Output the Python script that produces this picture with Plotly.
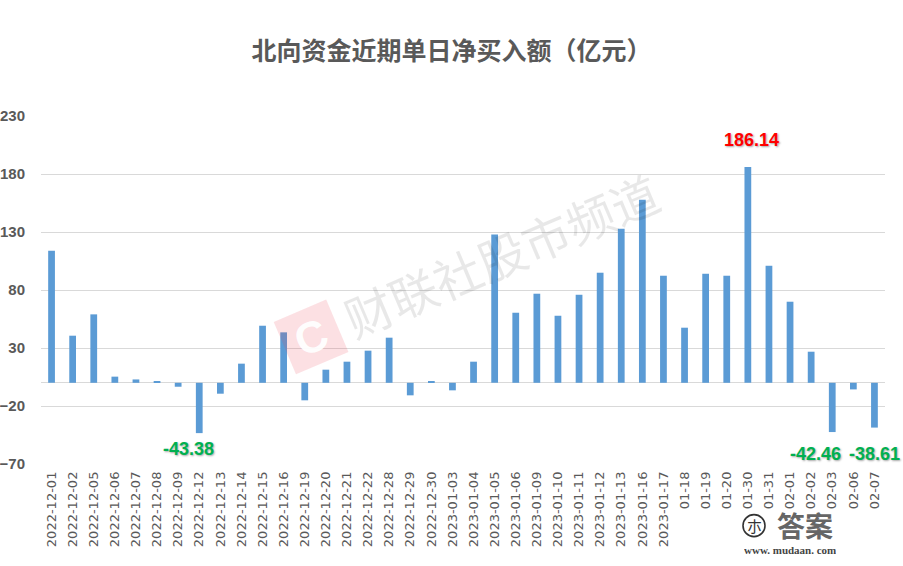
import plotly.graph_objects as go

# ---------------- data ----------------
dates = [
    "2022-12-01", "2022-12-02", "2022-12-05", "2022-12-06", "2022-12-07",
    "2022-12-08", "2022-12-09", "2022-12-12", "2022-12-13", "2022-12-14",
    "2022-12-15", "2022-12-16", "2022-12-19", "2022-12-20", "2022-12-21",
    "2022-12-22", "2022-12-28", "2022-12-29", "2022-12-30", "2023-01-03",
    "2023-01-04", "2023-01-05", "2023-01-06", "2023-01-09", "2023-01-10",
    "2023-01-11", "2023-01-12", "2023-01-13", "2023-01-16", "2023-01-17",
    "2023-01-18", "2023-01-19", "2023-01-20", "2023-01-30", "2023-01-31",
    "2023-02-01", "2023-02-02", "2023-02-03", "2023-02-06", "2023-02-07",
]
net_buy = [
    113.9, 40.6, 59.0, 5.3, 2.9,
    1.0, -3.4, -43.38, -9.4, 16.5,
    49.2, 43.5, -15.1, 11.3, 18.2,
    27.7, 38.9, -10.8, 1.0, -6.5,
    18.2, 127.9, 60.4, 76.8, 57.8,
    75.9, 94.9, 132.8, 157.8, 92.3,
    47.5, 94.0, 92.3, 186.14, 100.9,
    69.9, 26.8, -42.46, -5.7, -38.61,
]
# labels as printed on the axis (later ones are partly hidden by a logo)
tick_labels = [d if i < 30 else d[5:] for i, d in enumerate(dates)]

title_text = "北向资金近期单日净买入额（亿元）"
y_ticks = [-70, -20, 30, 80, 130, 180, 230]

# ---------------- layout geometry ----------------
W, H = 903, 566
L, R, T, B = 41, 885, 116, 464.3


def px(x):
    return (x - L) / (R - L)


def py(y):
    return (B - y) / (B - T)


GREY = "#595959"
CJK = "Noto Sans CJK SC"

fig = go.Figure()
fig.add_trace(go.Bar(
    x=dates, y=net_buy,
    marker=dict(color="#5B9BD5", line=dict(width=0)),
    hoverinfo="x+y",
))

annotations = []

# value call-outs
shadow = "1px 1px 2px rgba(0,0,0,0.35)"
callouts = [
    (dates[33], net_buy[33], "186.14", "#FF0000", "bottom", 4, 15),
    (dates[7], net_buy[7], "-43.38", "#00B050", "top", -11, -4),
    (dates[37], net_buy[37], "-42.46", "#00B050", "top", -17, -10),
    (dates[39], net_buy[39], "-38.61", "#00B050", "top", 0, -14),
]
for xc, yv, txt, col, ya, xs, ys in callouts:
    annotations.append(dict(
        x=xc, y=yv, xref="x", yref="y", text=f"<b>{txt}</b>",
        showarrow=False, yanchor=ya, xanchor="center", xshift=xs, yshift=ys,
        font=dict(family="Liberation Sans", size=18, color=col, shadow=shadow),
    ))

# watermark (财联社)
annotations.append(dict(
    x=px(501), y=py(254), xref="paper", yref="paper", text="财联社股市频道",
    showarrow=False, textangle=-23, xanchor="center", yanchor="middle",
    font=dict(family=CJK, size=48, color="rgba(0,0,0,0.09)"),
))
annotations.append(dict(
    x=px(311), y=py(337), xref="paper", yref="paper", text="<b>C</b>",
    showarrow=False, textangle=-23, width=54, height=54,
    xanchor="center", yanchor="middle",
    bgcolor="rgba(235,60,80,0.16)",
    font=dict(family="Liberation Sans", size=44, color="rgba(255,255,255,0.95)"),
))

# bottom-right logo
annotations.append(dict(
    x=px(754), y=py(526), xref="paper", yref="paper", text="朩",
    showarrow=False, xanchor="center", yanchor="middle",
    font=dict(family=CJK, size=15, color="#333333"),
))
annotations.append(dict(
    x=px(805), y=py(525), xref="paper", yref="paper", text="<b>答案</b>",
    showarrow=False, xanchor="center", yanchor="middle", height=32,
    font=dict(family=CJK, size=28, color="#666666"),
))
annotations.append(dict(
    x=px(790), y=py(550), xref="paper", yref="paper", text="<b>www. mudaan. com</b>",
    showarrow=False, xanchor="center", yanchor="middle", height=13,
    font=dict(family="Liberation Serif", size=11, color="#444444"),
))

shapes = [dict(
    type="circle", xref="paper", yref="paper",
    x0=px(743), x1=px(765), y0=py(537), y1=py(515),
    line=dict(color="#333333", width=1.6), fillcolor="rgba(0,0,0,0)",
)]

fig.update_layout(
    width=W, height=H, autosize=False,
    paper_bgcolor="white", plot_bgcolor="white",
    margin=dict(l=L, r=W - R, t=T, b=H - B),
    showlegend=False,
    bargap=0.68,
    title=dict(
        text=f"<b>{title_text}</b>", x=0.5, xanchor="center",
        y=1 - 51 / H, yanchor="middle", yref="container",
        font=dict(family=CJK, size=25, color=GREY),
    ),
    xaxis=dict(
        type="category", tickmode="array", tickvals=dates, ticktext=tick_labels,
        range=[-0.5, len(dates) - 0.5], automargin=False,
        tickangle=-90, showgrid=False, showline=False, ticks="",
        ticklabelstandoff=4,
        tickfont=dict(family="DejaVu Sans", size=13, color=GREY),
    ),
    yaxis=dict(
        range=[-70, 230], tickmode="array", tickvals=y_ticks, automargin=False,
        showgrid=True, gridcolor="#D9D9D9", gridwidth=1,
        zeroline=True, zerolinecolor="#D9D9D9", zerolinewidth=1,
        showline=False, ticks="", ticklabelstandoff=15,
        tickfont=dict(family="Liberation Sans", size=15, color=GREY, weight="bold"),
    ),
    annotations=annotations,
    shapes=shapes,
)

fig.write_html("out.html")
